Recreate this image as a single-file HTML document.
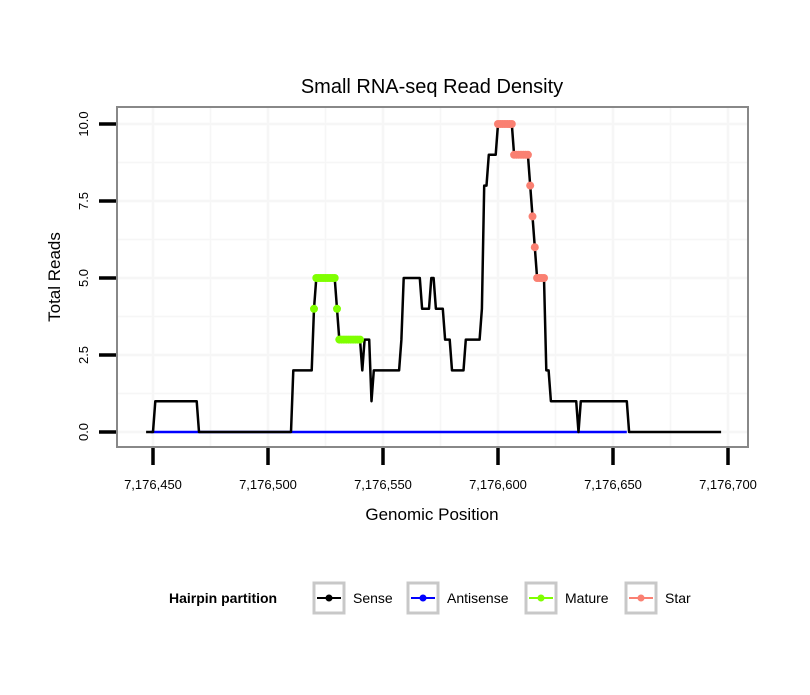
<!DOCTYPE html>
<html><head><meta charset="utf-8"><style>
html,body{margin:0;padding:0;background:#fff;}
svg text{font-family:"Liberation Sans",sans-serif;}
</style></head><body>
<svg id="chart" width="810" height="690" viewBox="0 0 810 690" xmlns="http://www.w3.org/2000/svg">
<rect width="810" height="690" fill="#fff"/>
<text x="432" y="93" text-anchor="middle" font-size="20" fill="#000">Small RNA-seq Read Density</text>
<g id="grid"></g>
<g id="series"></g>
<rect x="117" y="107" width="631" height="340" fill="none" stroke="#888" stroke-width="2"/>
<g id="axes"></g>
<text x="432" y="520" text-anchor="middle" font-size="17">Genomic Position</text>
<text transform="translate(60,277) rotate(-90)" text-anchor="middle" font-size="17">Total Reads</text>
<g id="legend">
<text x="169" y="603" font-size="14" font-weight="bold">Hairpin partition</text>
</g>
</svg>
<script>
const startPos = 7176447;
// runs of [value, count] for sense reads starting at startPos
const senseRuns = [[0,4],[1,19],[0,41],[2,9],[4,1],[5,9],[4,1],[3,10],[2,1],[3,3],[1,1],[2,12],[3,1],[5,8],[4,4],[5,2],[4,4],[3,3],[2,6],[3,7],[4,1],[8,2],[9,4],[10,7],[9,7],[8,1],[7,1],[6,1],[5,4],[2,2],[1,12],[0,1],[1,21],[0,41]];
const antisenseStart = 7176449;
const antisenseEnd = 7176656;
const matureStart = 7176520;
const matureEnd = 7176540;
const starStart = 7176600;
const starEnd = 7176620;
const xTicks = [7176450,7176500,7176550,7176600,7176650,7176700];
const yTicks = [0,2.5,5,7.5,10];
const yTickLabels = ["0.0","2.5","5.0","7.5","10.0"];

const NS="http://www.w3.org/2000/svg";
function X(v){return 153+(v-7176450)*2.3;}
function Y(v){return 432-v*30.8;}
function mk(tag,attrs,parent){const e=document.createElementNS(NS,tag);for(const k in attrs)e.setAttribute(k,attrs[k]);parent.appendChild(e);return e;}

const sense=[];let p=startPos;
senseRuns.forEach(r=>{for(let i=0;i<r[1];i++){sense.push([p,r[0]]);p++;}});
function val(pos){const s=sense.find(d=>d[0]===pos);return s?s[1]:0;}

const grid=document.getElementById('grid');
const minor=[1.25,3.75,6.25,8.75];
[...yTicks,...minor].forEach(t=>{const l=mk('line',{x1:117,x2:748,y1:Y(t),y2:Y(t),stroke:'#f6f6f6','stroke-width':yTicks.includes(t)?2.5:1.5},grid);

});
[7176475,7176525,7176575,7176625,7176675].forEach(t=>{const l=mk('line',{x1:X(t),x2:X(t),y1:107,y2:447,stroke:'#f6f6f6','stroke-width':1.5},grid);

});
xTicks.forEach(t=>{const l=mk('line',{x1:X(t),x2:X(t),y1:107,y2:447,stroke:'#f6f6f6','stroke-width':2.5},grid);

});

const ser=document.getElementById('series');
const blue=mk('line',{x1:X(antisenseStart),x2:X(antisenseEnd),y1:Y(0),y2:Y(0),stroke:'#0000ff','stroke-width':2.5},ser);


const path=mk('polyline',{points:sense.map(d=>X(d[0])+','+Y(d[1])).join(' '),fill:'none',stroke:'#000','stroke-width':2.5,'stroke-linejoin':'round'},ser);


for(let q=matureStart;q<=matureEnd;q++){const c=mk('circle',{cx:X(q),cy:Y(val(q)),r:4,fill:'#7fff00'},ser);

}
for(let q=starStart;q<=starEnd;q++){const c=mk('circle',{cx:X(q),cy:Y(val(q)),r:4,fill:'#fa8072'},ser);

}

const ax=document.getElementById('axes');
yTicks.forEach((t,i)=>{const l=mk('line',{x1:99,x2:116,y1:Y(t),y2:Y(t),stroke:'#000','stroke-width':3.5},ax);


const tx=mk('text',{transform:`translate(88,${Y(t)}) rotate(-90)`,'text-anchor':'middle','font-size':13},ax);
tx.textContent=yTickLabels[i];

});
xTicks.forEach(t=>{const l=mk('line',{x1:X(t),x2:X(t),y1:448,y2:465,stroke:'#000','stroke-width':3.5},ax);


const tx=mk('text',{x:X(t),y:489,'text-anchor':'middle','font-size':13},ax);
tx.textContent=t.toLocaleString('en-US');

});

const legendNames=['Sense','Antisense','Mature','Star'];
const legendColors=['#000','#0000ff','#7fff00','#fa8072'];
const legendX=[314,408,526,626];
const lg=document.getElementById('legend');
legendNames.forEach((n,i)=>{const g=mk('g',{},lg);


mk('rect',{x:legendX[i],y:583,width:30,height:30,fill:'#fff',stroke:'#c8c8c8','stroke-width':3},g);
mk('line',{x1:legendX[i]+3,x2:legendX[i]+27,y1:598,y2:598,stroke:legendColors[i],'stroke-width':2},g);
mk('circle',{cx:legendX[i]+15,cy:598,r:3.5,fill:legendColors[i]},g);
const t=mk('text',{x:legendX[i]+39,y:603,'font-size':14},g);t.textContent=n;});
</script>
</body></html>
